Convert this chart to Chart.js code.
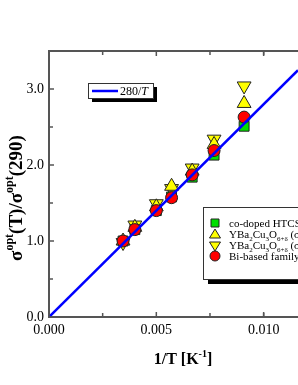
<!DOCTYPE html>
<html><head><meta charset="utf-8">
<script src="https://cdn.jsdelivr.net/npm/chart.js@4/dist/chart.umd.min.js"></script>
<style>html,body{margin:0;padding:0;background:#fff;overflow:hidden}#wrap{width:298px;height:385px;position:relative}</style>
</head><body><div id="wrap"><canvas id="c" width="298" height="385"></canvas></div>
<script>
// ---- data ----
const invT = [0.00345, 0.00400, 0.00500, 0.00571, 0.00667, 0.00769, 0.00909];
const coDoped = [1.00, 1.15, 1.40, 1.58, 1.84, 2.13, 2.51];
const ybcoA   = [1.00, 1.18, 1.45, 1.72, 1.92, 2.27, 2.81];
const ybcoB   = [0.98, 1.21, 1.49, 1.69, 1.96, 2.34, 3.04];
const biFam   = [1.00, 1.15, 1.40, 1.57, 1.87, 2.19, 2.63];
const lineX = [0.0, 0.0116];
const lineY = [0.0, 3.248];
const xTicks = [0, 0.005, 0.010];
const xTickLabels = ['0.000', '0.005', '0.010'];
const yTicks = [0, 1, 2, 3];
const yTickLabels = ['0.0', '1.0', '2.0', '3.0'];
const xMinor = [0.0025, 0.0075, 0.0100];
const yMinor = [0.5, 1.5, 2.5];

const SERIF = '"Liberation Serif", "Times New Roman", serif';
const AXIS = '#555';

function pts(xs, ys){ return xs.map((x,i)=>({x:x, y:ys[i]})); }

function richWidth(ctx, segs){
  let w=0;
  for(const s of segs){ ctx.font=(s.italic?'italic ':'')+(s.bold?'bold ':'')+s.size+'px '+SERIF; w+=ctx.measureText(s.t).width; }
  return w;
}
function drawRich(ctx, segs, x, y, align){
  let w = richWidth(ctx, segs);
  let cx = align==='center' ? x - w/2 : x;
  ctx.textBaseline='alphabetic'; ctx.textAlign='left';
  for(const s of segs){
    ctx.font=(s.italic?'italic ':'')+(s.bold?'bold ':'')+s.size+'px '+SERIF;
    ctx.fillStyle='#000';
    ctx.fillText(s.t, cx, y + (s.dy||0));
    cx += ctx.measureText(s.t).width;
  }
}
function marker(ctx, type, x, y, fill){
  ctx.save(); ctx.fillStyle=fill; ctx.strokeStyle='#222'; ctx.lineWidth=1;
  ctx.beginPath();
  if(type==='sq'){ ctx.rect(x-4,y-4,8,8); }
  else if(type==='up'){ ctx.moveTo(x,y-5); ctx.lineTo(x+5.5,y+4); ctx.lineTo(x-5.5,y+4); ctx.closePath(); }
  else if(type==='down'){ ctx.moveTo(x,y+5); ctx.lineTo(x+5.5,y-4); ctx.lineTo(x-5.5,y-4); ctx.closePath(); }
  else { ctx.arc(x,y,5,0,Math.PI*2); }
  ctx.fill(); ctx.stroke(); ctx.restore();
}

const deco = {
  id:'deco',
  afterDraw(chart){
    const ctx=chart.ctx, a=chart.chartArea, xs=chart.scales.x, ys=chart.scales.y;
    ctx.save();
    // top axis line
    ctx.strokeStyle=AXIS; ctx.lineWidth=2;
    ctx.beginPath(); ctx.moveTo(a.left-1, a.top); ctx.lineTo(a.right, a.top); ctx.stroke();
    // ticks
    ctx.lineWidth=1.5;
    const drawX=(v,len)=>{const p=xs.getPixelForValue(v);
      ctx.beginPath(); ctx.moveTo(p,a.bottom); ctx.lineTo(p,a.bottom-len); ctx.moveTo(p,a.top); ctx.lineTo(p,a.top+len); ctx.stroke();};
    const drawY=(v,len)=>{const p=ys.getPixelForValue(v);
      ctx.beginPath(); ctx.moveTo(a.left,p); ctx.lineTo(a.left+len,p); ctx.stroke();};
    xTicks.forEach(v=>drawX(v,5)); xMinor.forEach(v=>drawX(v,4));
    yTicks.forEach(v=>drawY(v,5)); yMinor.forEach(v=>drawY(v,4));

    // x title
    drawRich(ctx, [
      {t:'1/T [K', size:16, bold:true},
      {t:'-1', size:10, bold:true, dy:-7},
      {t:']', size:16, bold:true}
    ], 183, 364, 'center');
    // y title
    ctx.save(); ctx.translate(22, 198); ctx.rotate(-Math.PI/2);
    drawRich(ctx, [
      {t:'σ', size:19, bold:true},
      {t:'opt', size:12, bold:true, dy:-9},
      {t:'(T)/σ', size:19, bold:true},
      {t:'opt', size:12, bold:true, dy:-9},
      {t:'(290)', size:19, bold:true}
    ], 0, 0, 'center');
    ctx.restore();

    // legend 1
    ctx.fillStyle='#000'; ctx.fillRect(92,87,65,15);
    ctx.fillStyle='#fff'; ctx.fillRect(88,83,65,15);
    ctx.strokeStyle='#333'; ctx.lineWidth=1; ctx.strokeRect(88.5,83.5,65,15);
    ctx.strokeStyle='#0000ff'; ctx.lineWidth=2.5;
    ctx.beginPath(); ctx.moveTo(92,91); ctx.lineTo(118,91); ctx.stroke();
    drawRich(ctx, [{t:'280/', size:12},{t:'T', size:12, italic:true}], 120, 95, 'left');

    // legend 2
    ctx.fillStyle='#000'; ctx.fillRect(208,212,100,72);
    ctx.fillStyle='#fff'; ctx.fillRect(203,207,100,72);
    ctx.strokeStyle='#333'; ctx.lineWidth=1; ctx.strokeRect(203.5,207.5,100,72);
    marker(ctx,'sq',215,223,'#00e000');
    marker(ctx,'up',215,234,'#ffff00');
    marker(ctx,'down',215,246,'#ffff00');
    marker(ctx,'ci',215,256,'#ff0000');
    drawRich(ctx,[{t:'co-doped HTCSs',size:11}],229,227,'left');
    const yb=(sub)=>[{t:'YBa',size:11},{t:'2',size:7,dy:2.5},{t:'Cu',size:11},{t:'3',size:7,dy:2.5},{t:'O',size:11},{t:'6+δ',size:7,dy:2.5},{t:' (σ',size:11},{t:sub,size:7,dy:2.5},{t:')',size:11}];
    drawRich(ctx,yb('a'),229,238,'left');
    drawRich(ctx,yb('b'),229,249,'left');
    drawRich(ctx,[{t:'Bi-based family',size:11}],229,260,'left');
    ctx.restore();
  }
};

new Chart(document.getElementById('c'), {
  type:'scatter',
  data:{datasets:[
    {label:'280/T', type:'line', data:pts(lineX,lineY), borderColor:'#0000ff', borderWidth:2.5, pointRadius:0, fill:false, order:0},
    {label:'Bi-based family', data:pts(invT,biFam), pointStyle:'circle', pointRadius:6, backgroundColor:'#ff0000', borderColor:'#222', borderWidth:1, order:1},
    {label:'co-doped HTCSs', data:pts(invT,coDoped), pointStyle:'rect', pointRadius:7, backgroundColor:'#00e000', borderColor:'#222', borderWidth:1, order:2},
    {label:'YBCO a', data:pts(invT,ybcoA), pointStyle:'triangle', pointRadius:8, backgroundColor:'#ffff00', borderColor:'#222', borderWidth:1, order:3},
    {label:'YBCO b', data:pts(invT,ybcoB), pointStyle:'triangle', rotation:180, pointRadius:8, backgroundColor:'#ffff00', borderColor:'#222', borderWidth:1, order:4}
  ]},
  options:{
    responsive:false, animation:false, devicePixelRatio:1,
    layout:{autoPadding:false, padding:{top:51,right:0,left:0,bottom:0}},
    plugins:{legend:{display:false}, tooltip:{enabled:false}},
    scales:{
      x:{type:'linear', min:0, max:0.0116,
        afterBuildTicks:s=>{s.ticks=xTicks.map(v=>({value:v}));},
        afterFit:s=>{s.height=68; s.paddingLeft=0; s.paddingRight=0;},
        ticks:{callback:(v)=>xTickLabels[xTicks.indexOf(v)], font:{family:SERIF,size:14}, color:'#000', padding:5, maxRotation:0, autoSkip:false},
        grid:{display:false, drawTicks:false},
        border:{display:true, color:AXIS, width:2}},
      y:{type:'linear', min:0, max:3.5,
        afterBuildTicks:s=>{s.ticks=yTicks.map(v=>({value:v}));},
        afterFit:s=>{s.width=49; s.paddingTop=0; s.paddingBottom=0;},
        ticks:{callback:(v)=>yTickLabels[yTicks.indexOf(v)], font:{family:SERIF,size:14}, color:'#000', padding:5},
        grid:{display:false, drawTicks:false},
        border:{display:true, color:AXIS, width:2}}
    }
  },
  plugins:[deco]
});
</script></body></html>
